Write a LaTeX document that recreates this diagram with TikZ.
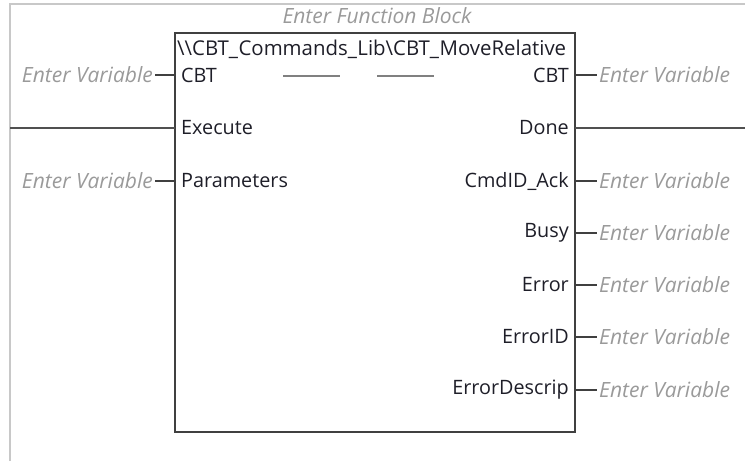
\documentclass[tikz,border=0pt]{standalone}
\usepackage{fontspec}
\setmainfont{Open Sans}
\definecolor{framegray}{HTML}{C8C8C8}
\definecolor{boxgray}{HTML}{404040}
\definecolor{vargray}{HTML}{9A9A9A}
\definecolor{wiregray}{HTML}{505050}
\definecolor{pintext}{HTML}{1E1E28}
\begin{document}
\begin{tikzpicture}[x=1pt,y=-1pt,
  pin/.style={font=\fontsize{19.8}{22}\selectfont, text=pintext, inner sep=0pt},
  pinl/.style={pin, anchor=west},
  pinr/.style={pin, anchor=east},
  vartext/.style={font=\fontsize{21}{24}\selectfont\itshape, text=vargray, inner sep=0pt},
  varl/.style={vartext, anchor=east},
  varr/.style={vartext, anchor=west},
  stub/.style={draw=boxgray, line width=1.3pt},
  wire/.style={draw=wiregray, line width=1.8pt}]
\useasboundingbox (0,0) rectangle (745,461);
% editor frame
\draw[framegray, line width=1.2pt] (10,461) -- (10,4) -- (745,4);
% function block name
\node[vartext] (fbname) at (377,16) {Enter Function Block};
% block body
\draw[boxgray, line width=2pt] (175,33) rectangle (575,432);
\node[pinl, font=\fontsize{20.4}{22}\selectfont] (title) at (177,49)
  {\textbackslash\textbackslash CBT\_\kern0.5pt Commands\_\kern0.5pt Lib\textbackslash CBT\_\kern0.5pt MoveRelative};
% pin anchors on the block edges
\foreach \n/\y in {cbtin/75, exein/128, parin/181}
  \coordinate (\n) at (175,\y);
\foreach \n/\y in {cbtout/75, doneout/128, ackout/181, busyout/233, errout/285, eidout/337, edout/390}
  \coordinate (\n) at (575,\y);
% input pin names
\node[pinl] (lcbt) at (181,75) {CBT};
\node[pinl] (lexe) at (181,128) {Execute};
\node[pinl] (lpar) at (181,181) {Parameters};
% output pin names
\node[pinr] (rcbt) at (569,75) {CBT};
\node[pinr] (rdone) at (569,128) {Done};
\node[pinr] (rack) at (569,181) {CmdID\_Ack};
\node[pinr] (rbusy) at (569,233) {Busy};
\node[pinr] (rerr) at (569,285) {Error};
\node[pinr] (reid) at (569,337) {ErrorID};
\node[pinr] (red) at (569,390) {ErrorDescrip};
% in-out pass-through dashes
\coordinate (d1a) at (283,76); \coordinate (d1b) at (340,76);
\coordinate (d2a) at (377,76); \coordinate (d2b) at (434,76);
\draw[draw=gray, line width=1.6pt] (d1a) -- (d1b) (d2a) -- (d2b);
% input variables
\node[varl] (vcbtin) at (153,75) {Enter Variable};
\node[varl] (vparin) at (153,181) {Enter Variable};
\draw[stub] (vcbtin.east) ++(2,0) coordinate (s1) (s1) -- (cbtin);
\draw[stub] (vparin.east) ++(2,0) coordinate (s2) (s2) -- (parin);
% output variables
\foreach \p/\y/\n in {cbtout/75/vcbt, ackout/181/vack, busyout/233/vbusy, errout/285/verr, eidout/337/veid, edout/390/ved}{
  \node[varr] (\n) at (599,\y) {Enter Variable};
  \draw[stub] (\p) -- ([xshift=-2pt]\n.west |- \p);
}
% rungs
\coordinate (railL) at (10,128);
\coordinate (railR) at (745,128);
\draw[wire] (railL) -- (exein);
\draw[wire] (doneout) -- (railR);
\end{tikzpicture}
\end{document}
